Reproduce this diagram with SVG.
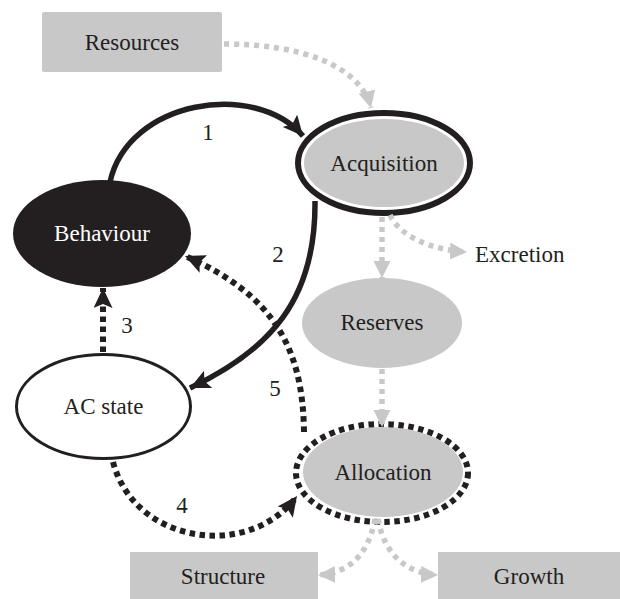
<svg xmlns="http://www.w3.org/2000/svg" width="620" height="599" viewBox="0 0 620 599">
<style>
  .lbl { font-family: "Liberation Serif", "DejaVu Serif", serif; font-size: 23px; fill: #231f20; text-anchor: middle; }
  .wht { fill: #ffffff; }
  .box { fill: #c8c8c9; }
  .gfill { fill: #c8c8c9; }
  .solid { fill: none; stroke: #231f20; stroke-width: 5.5; }
  .bdot { fill: none; stroke: #231f20; stroke-width: 6; stroke-dasharray: 5.5 4.5; }
  .gdot { fill: none; stroke: #c8c8c9; stroke-width: 5.5; stroke-dasharray: 5 5; }
</style>
<defs>
  <marker id="ab" markerUnits="userSpaceOnUse" markerWidth="22" markerHeight="20" refX="20" refY="9.5" orient="auto">
    <path d="M0,0 L20,9.5 L0,19 L4,9.5 z" fill="#231f20"/>
  </marker>
  <marker id="ag" markerUnits="userSpaceOnUse" markerWidth="18" markerHeight="18" refX="17" refY="8.5" orient="auto">
    <path d="M0,0 L17,8.5 L0,17 z" fill="#c8c8c9"/>
  </marker>
</defs>

<g id="resources">
  <rect class="box" x="42" y="12" width="180" height="60" rx="2"/>
  <text class="lbl" x="132" y="50">Resources</text>
</g>
<g id="acquisition">
  <ellipse cx="384" cy="163" rx="86" ry="50" fill="#ffffff" stroke="#231f20" stroke-width="6"/>
  <ellipse class="gfill" cx="384" cy="163" rx="80" ry="44"/>
  <text class="lbl" x="384" y="171">Acquisition</text>
</g>
<g id="behaviour">
  <ellipse cx="102" cy="233.5" rx="89" ry="53.5" fill="#231f20"/>
  <text class="lbl wht" x="102" y="241">Behaviour</text>
</g>
<g id="reserves">
  <ellipse class="gfill" cx="382" cy="323" rx="80" ry="45"/>
  <text class="lbl" x="382" y="330">Reserves</text>
</g>
<g id="acstate">
  <ellipse cx="103.5" cy="406.5" rx="87" ry="52" fill="#ffffff" stroke="#231f20" stroke-width="3"/>
  <text class="lbl" x="103.5" y="414">AC state</text>
</g>
<g id="allocation">
  <ellipse class="gfill" cx="383" cy="472" rx="80" ry="45"/>
  <ellipse class="bdot" cx="382" cy="473" rx="86" ry="49"/>
  <text class="lbl" x="383" y="480">Allocation</text>
</g>
<g id="excretion">
  <text class="lbl" x="475" y="262" style="text-anchor:start">Excretion</text>
</g>
<g id="structure">
  <rect class="box" x="130" y="552" width="188" height="50"/>
  <text class="lbl" x="223" y="584">Structure</text>
</g>
<g id="growth">
  <rect class="box" x="438" y="552" width="184" height="50"/>
  <text class="lbl" x="529" y="584">Growth</text>
</g>

<g id="connectors">
  <path class="gdot" d="M224,44 C300,44 360,65 371,108" marker-end="url(#ag)"/>
  <path class="gdot" d="M382,217 L382,278" marker-end="url(#ag)"/>
  <path class="gdot" d="M390,215 C400,236 430,250 467,252" marker-end="url(#ag)"/>
  <path class="gdot" d="M382,369 L382,427" marker-end="url(#ag)"/>
  <path class="gdot" d="M375,519 C368,558 345,574 318,575" marker-end="url(#ag)"/>
  <path class="gdot" d="M378,519 C385,558 410,574 438,575" marker-end="url(#ag)"/>

  <path class="solid" d="M110,182 C128,100 255,80 303,136" marker-end="url(#ab)"/>
  <path class="solid" d="M315,201 C316,300 270,350 190,388" marker-end="url(#ab)"/>
  <path class="bdot" d="M103,352 L103,288" marker-end="url(#ab)"/>
  <path class="bdot" d="M304,432 C303,350 275,295 185,256" marker-end="url(#ab)"/>
  <path class="bdot" d="M113,462 C135,545 250,560 297,496" marker-end="url(#ab)"/>

  <text class="lbl" x="208" y="140">1</text>
  <text class="lbl" x="278" y="262">2</text>
  <text class="lbl" x="127" y="333">3</text>
  <text class="lbl" x="182" y="513">4</text>
  <text class="lbl" x="275" y="396">5</text>
</g>
</svg>
